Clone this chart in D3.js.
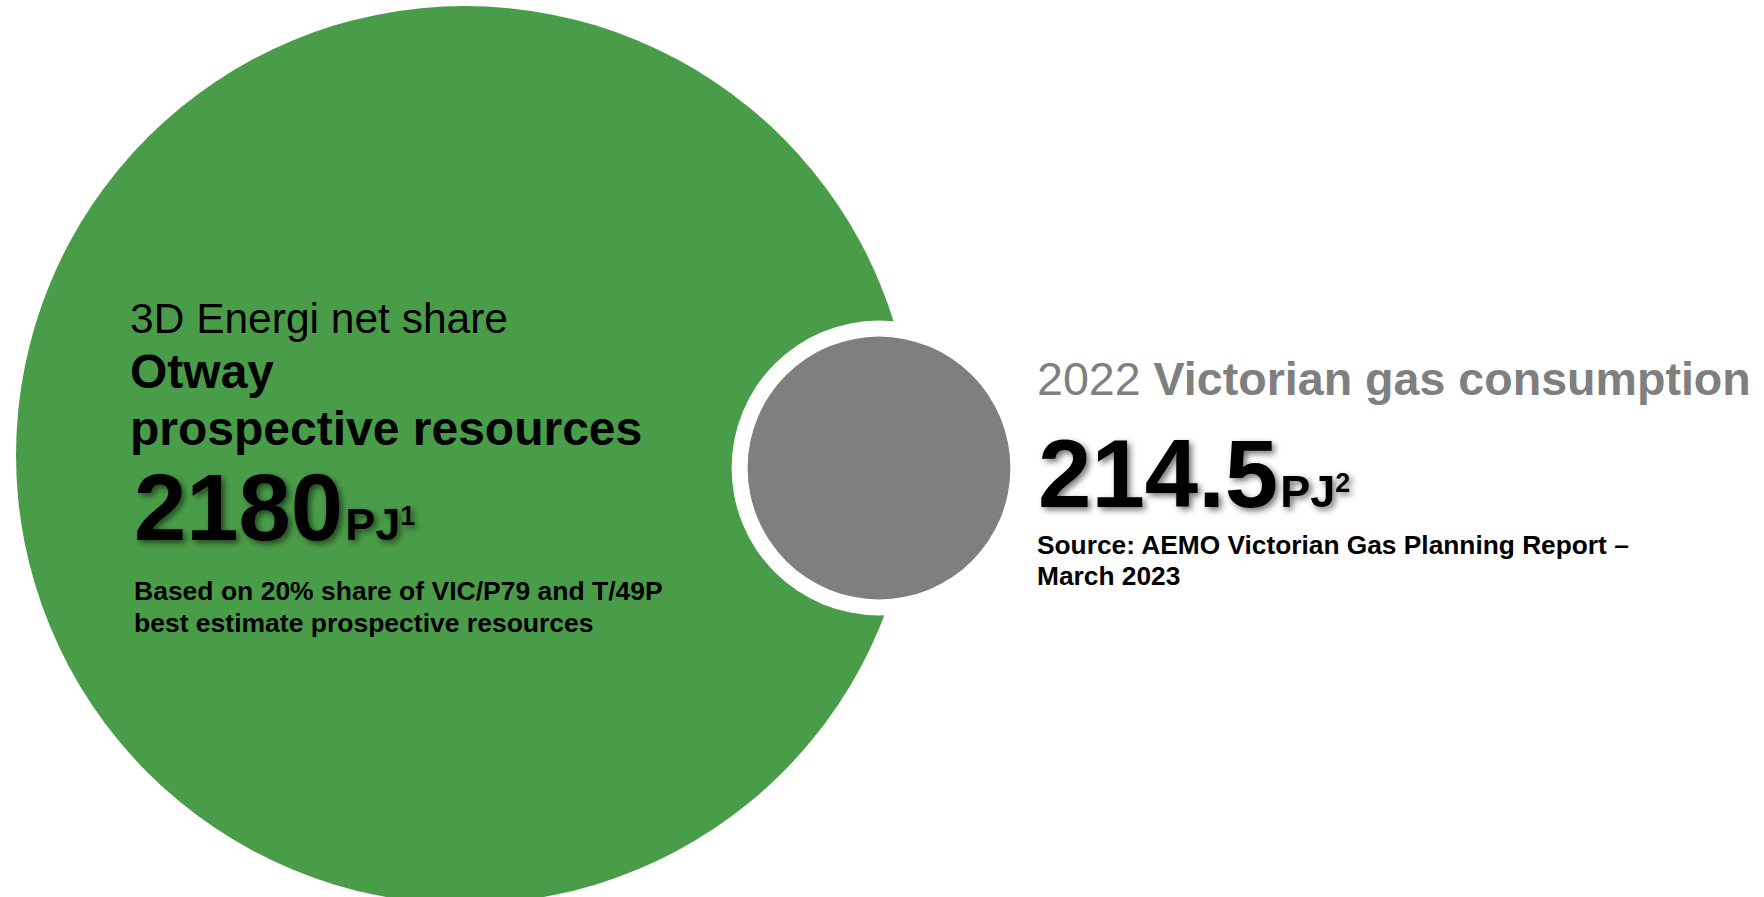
<!DOCTYPE html>
<html>
<head>
<meta charset="utf-8">
<script src="https://cdn.jsdelivr.net/npm/d3@7"></script>
<style>
    html, body { margin: 0; padding: 0; background: #ffffff; overflow: hidden; }
    svg { display: block; font-family: Arial, 'Liberation Sans', sans-serif; }
</style>
</head>
<body>
<div id="chart"></div>
<script>
// values
const seriesNames = ['Otway prospective resources', '2022 Victorian gas consumption'];
const seriesValues = [2180, 214.5];
const seriesUnits = ['PJ', 'PJ'];
const footnoteMarks = ['1', '2'];
const seriesColors = ['#4a9d48', '#7f7f7f'];
const leftHeading = ['3D Energi net share', 'Otway', 'prospective resources'];
const leftNotes = ['Based on 20% share of VIC/P79 and T/49P', 'best estimate prospective resources'];
const rightHeading = ['2022', 'Victorian gas consumption'];
const rightNotes = ['Source: AEMO Victorian Gas Planning Report \u2013', 'March 2023'];

const width = 1764;
const height = 897;

// circle size, roughly scaled from the value (slide was drawn by hand)
const rScale = d3.scalePow().exponent(0.53).domain([0, d3.max(seriesValues)]).range([0, 449]);
const centers = [
    { x: 465, y: 455 },
    { x: 879, y: 468 },
];

const svg = d3
    .select('#chart')
    .append('svg')
    .attr('width', width)
    .attr('height', height);

const defs = svg.append('defs');
defs.append('filter')
    .attr('id', 'numShadow')
    .attr('x', '-10%')
    .attr('y', '-10%')
    .attr('width', '130%')
    .attr('height', '140%')
    .append('feDropShadow')
    .attr('dx', 3)
    .attr('dy', 3)
    .attr('stdDeviation', 3)
    .attr('flood-color', '#000000')
    .attr('flood-opacity', 0.55);

svg.append('rect').attr('width', width).attr('height', height).attr('fill', '#ffffff');

/* s: circles */
const bubbles = seriesValues.map((v, i) => ({
    name: seriesNames[i],
    value: v,
    r: rScale(v),
    x: centers[i].x,
    y: centers[i].y,
    color: seriesColors[i],
}));

svg.append('circle')
    .attr('cx', bubbles[0].x)
    .attr('cy', bubbles[0].y)
    .attr('r', bubbles[0].r)
    .attr('fill', bubbles[0].color);

// white ring that cuts the small bubble out of the big one
svg.append('circle')
    .attr('cx', bubbles[1].x)
    .attr('cy', bubbles[1].y)
    .attr('r', bubbles[1].r + 16)
    .attr('fill', '#ffffff');

svg.append('circle')
    .attr('cx', bubbles[1].x)
    .attr('cy', bubbles[1].y)
    .attr('r', bubbles[1].r)
    .attr('fill', bubbles[1].color);
/* e: circles */

/* s: left text */
const left = svg.append('g').attr('fill', '#000000');
left.append('text')
    .attr('x', 130)
    .attr('y', 333)
    .attr('font-size', 42.5)
    .text(leftHeading[0]);
left.append('text')
    .attr('x', 130)
    .attr('y', 388)
    .attr('font-size', 48)
    .attr('font-weight', 'bold')
    .text(leftHeading[1]);
left.append('text')
    .attr('x', 130)
    .attr('y', 445)
    .attr('font-size', 48)
    .attr('font-weight', 'bold')
    .text(leftHeading[2]);

const leftNum = left.append('text')
    .attr('x', 134)
    .attr('y', 540)
    .attr('font-weight', 'bold')
    .attr('filter', 'url(#numShadow)');
leftNum.append('tspan').attr('font-size', 94).text(d3.format('d')(bubbles[0].value));
leftNum.append('tspan').attr('font-size', 45).attr('dx', 2).text(seriesUnits[0]);
leftNum.append('tspan').attr('font-size', 27).attr('dy', -15).text(footnoteMarks[0]);

left.selectAll('text.note')
    .data(leftNotes)
    .join('text')
    .attr('class', 'note')
    .attr('x', 134)
    .attr('y', (d, i) => 600 + i * 32)
    .attr('font-size', 26.5)
    .attr('font-weight', 'bold')
    .text((d) => d);
/* e: left text */

/* s: right text */
const right = svg.append('g');
const head = right.append('text')
    .attr('x', 1037)
    .attr('y', 395)
    .attr('font-size', 46.6)
    .attr('fill', '#7f7f7f');
head.append('tspan').text(rightHeading[0] + ' ');
head.append('tspan').attr('font-weight', 'bold').text(rightHeading[1]);

const rightNum = right.append('text')
    .attr('x', 1038)
    .attr('y', 507)
    .attr('font-weight', 'bold')
    .attr('fill', '#000000')
    .attr('filter', 'url(#numShadow)');
rightNum.append('tspan').attr('font-size', 96).text(d3.format('.1f')(bubbles[1].value));
rightNum.append('tspan').attr('font-size', 45).attr('dx', 2).text(seriesUnits[1]);
rightNum.append('tspan').attr('font-size', 27).attr('dy', -15).text(footnoteMarks[1]);

right.selectAll('text.note')
    .data(rightNotes)
    .join('text')
    .attr('class', 'note')
    .attr('x', 1037)
    .attr('y', (d, i) => 554 + i * 31)
    .attr('font-size', 26.3)
    .attr('font-weight', 'bold')
    .attr('fill', '#000000')
    .text((d) => d);
/* e: right text */
</script>
</body>
</html>
